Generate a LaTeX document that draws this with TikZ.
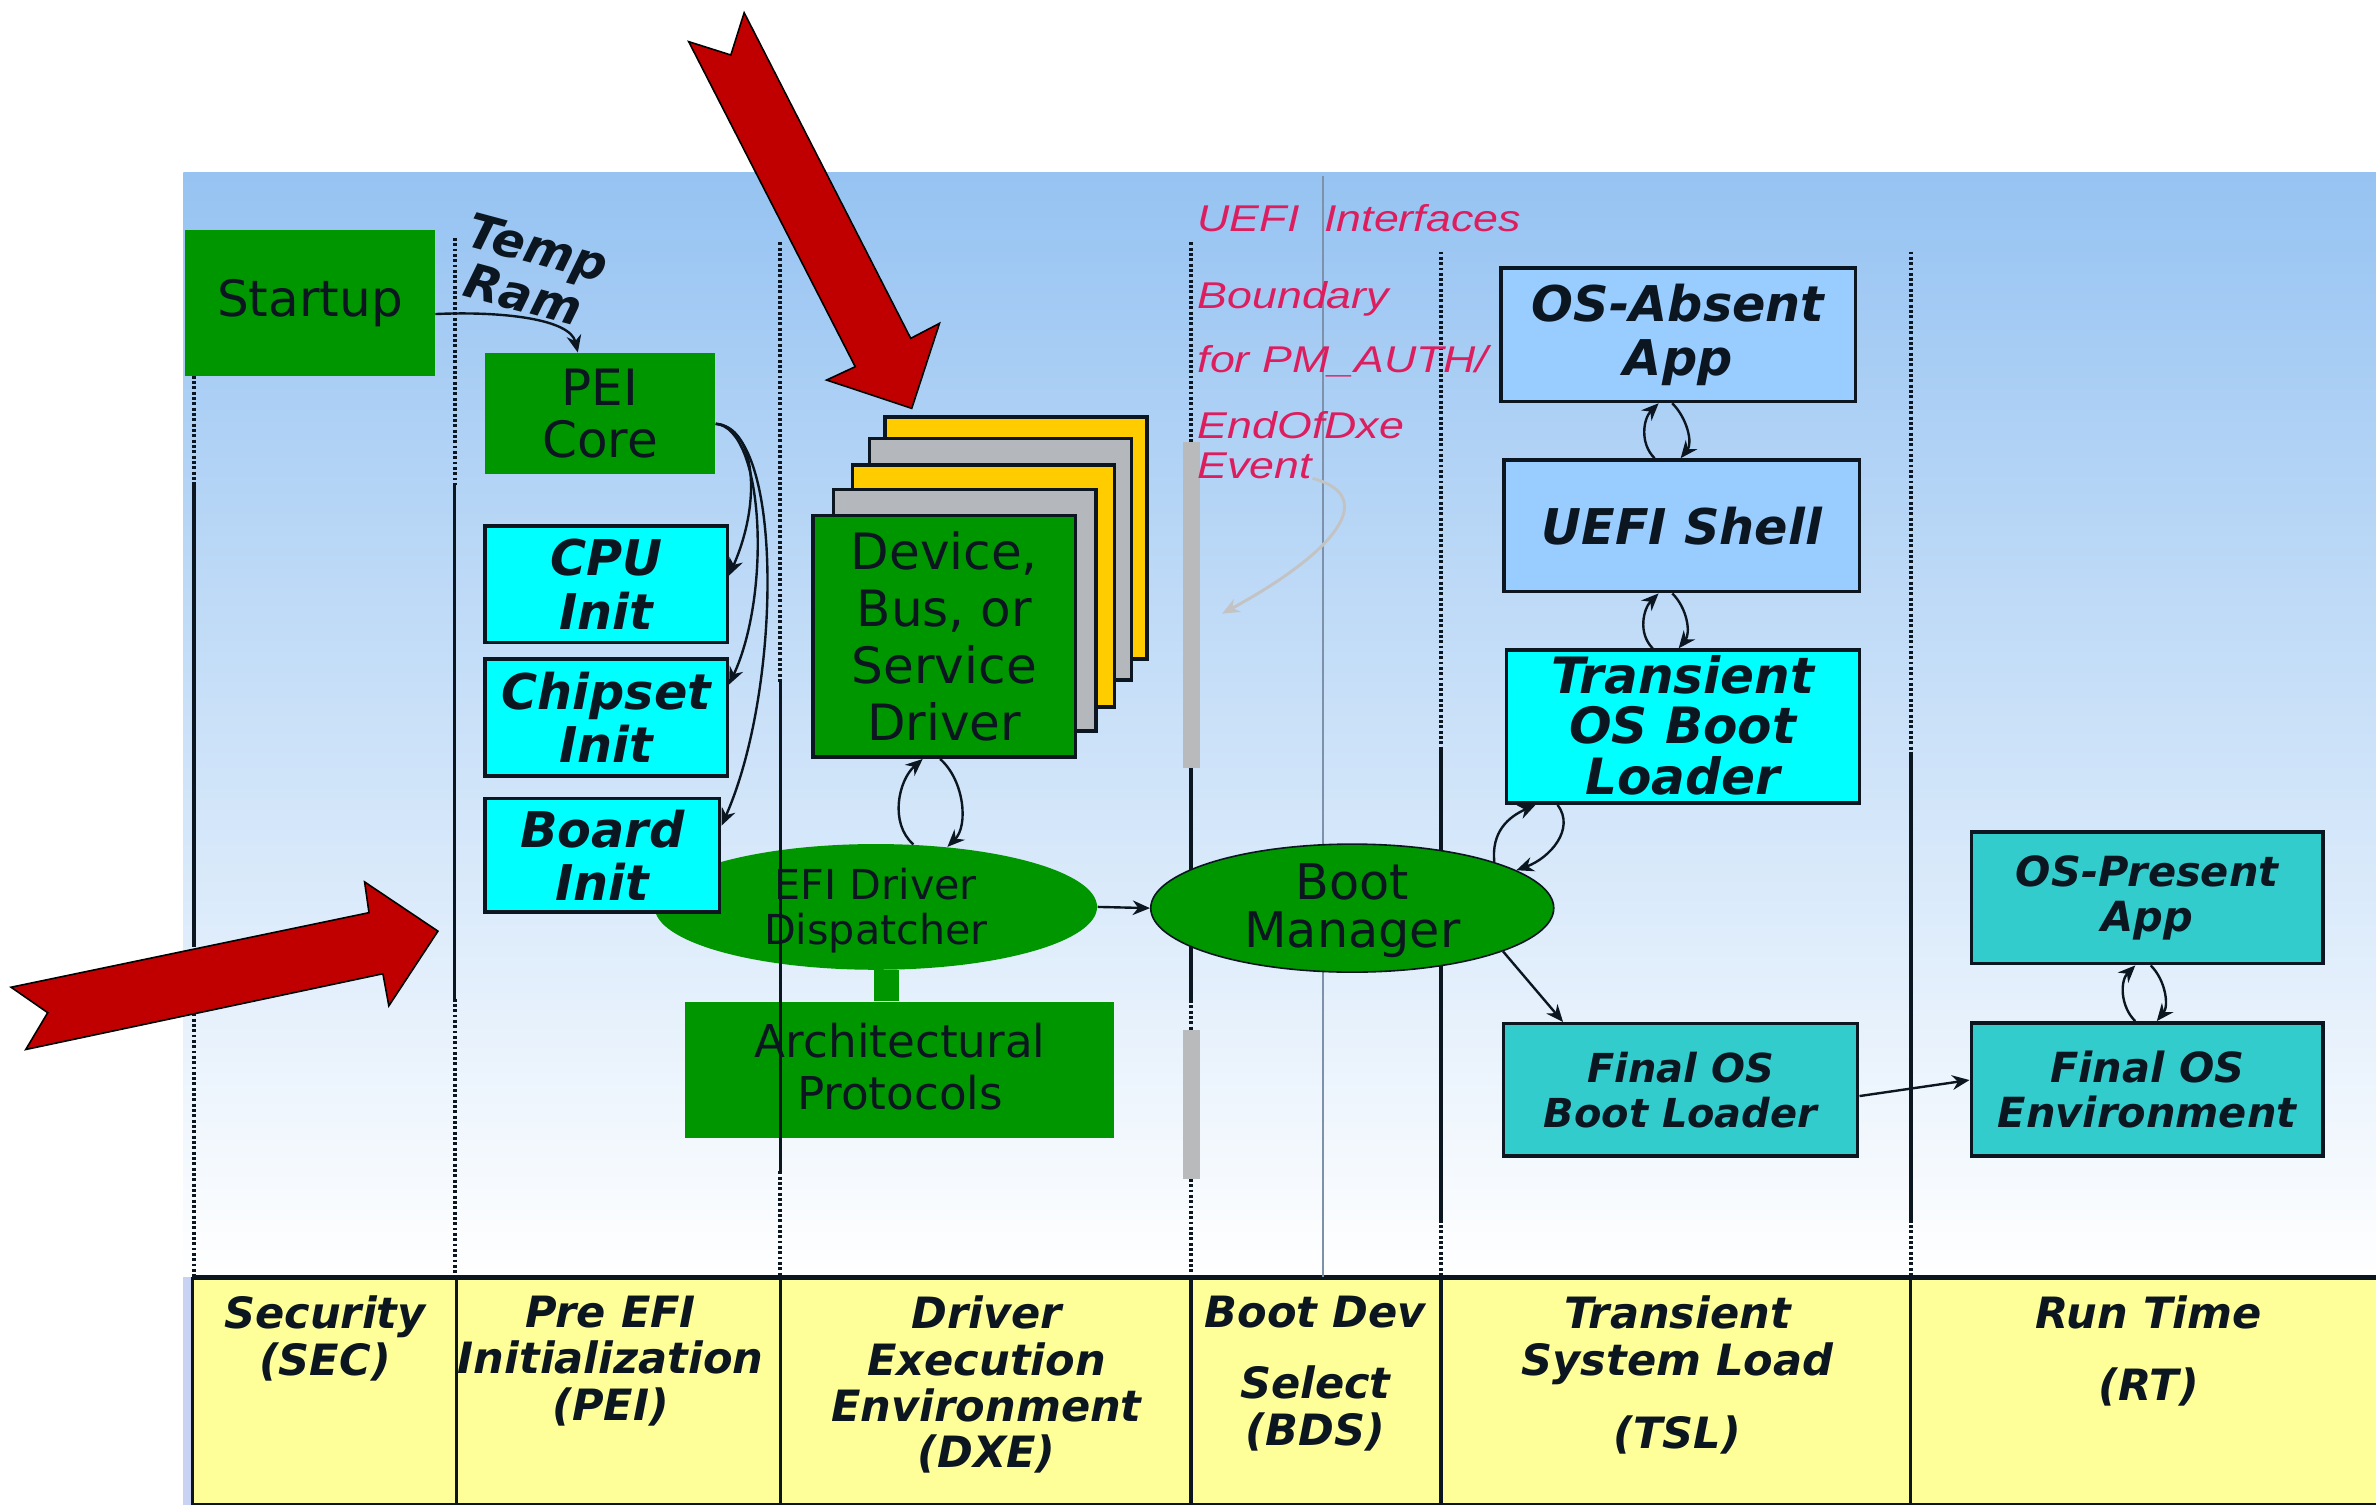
\documentclass[tikz,border=0pt]{standalone}
\usepackage{fontspec}
\setmainfont{DejaVu Sans}
\newfontfamily\pinkfont[FakeStretch=1.2]{Liberation Sans}
\usetikzlibrary{shapes.geometric, arrows.meta}

\definecolor{ink}{RGB}{12,22,32}
\definecolor{fgreen}{RGB}{0,150,0}
\definecolor{cyanbox}{RGB}{0,255,255}
\definecolor{skybox}{RGB}{153,204,255}
\definecolor{tealbox}{RGB}{51,204,204}
\definecolor{drvyellow}{RGB}{255,204,0}
\definecolor{drvgray}{RGB}{180,184,188}
\definecolor{panelblue}{RGB}{150,195,242}
\definecolor{panelmid}{RGB}{190,217,247}
\definecolor{bandyellow}{RGB}{255,255,153}
\definecolor{bandstrip}{RGB}{200,210,245}
\definecolor{pinktext}{RGB}{220,30,95}
\definecolor{redarrow}{RGB}{192,0,0}
\definecolor{thinline}{RGB}{125,145,170}
\definecolor{bargray}{RGB}{184,186,188}
\definecolor{evtgray}{RGB}{195,195,195}

\tikzset{
  box/.style={rectangle, inner sep=0pt, align=center, text=ink},
  gbox/.style={box, fill=fgreen},
  pbox/.style={box, draw=ink, line width=1.3pt},
  regbig/.style={font=\fontsize{18.8}{21.5}\selectfont},
  bitbig/.style={font=\bfseries\itshape\fontsize{18.5}{20}\selectfont},
  bitsmall/.style={font=\bfseries\itshape\fontsize{15}{17}\selectfont},
  txtnode/.style={align=center, inner sep=0pt, text=ink},
  tiltlbl/.style={anchor=base west, rotate=-15, inner sep=0pt, text=ink,
    font=\bfseries\itshape\fontsize{18}{18}\selectfont},
  conn/.style={->, line width=0.9pt, draw=ink},
  coldot/.style={line width=1.5pt, dash pattern=on 1.1pt off 0.9pt, draw=ink},
  colsolid/.style={line width=1.4pt, draw=ink},
  bandline/.style={line width=1.2pt, draw=ink},
  bandlbl/.style={align=center, inner sep=0pt, text=ink, anchor=north,
    font=\bfseries\itshape\fontsize{16.2}{17.4}\selectfont},
  pinktxt/.style={anchor=base west, inner sep=0pt, text=pinktext,
    font=\pinkfont\itshape\fontsize{14}{16}\selectfont},
  drvcard/.style={box, draw=ink, line width=1.4pt, minimum width=3.46cm, minimum height=3.19cm},
  bigarrow/.style={fill=redarrow, draw=black, line width=0.6pt, line join=miter},
}

\begin{document}
\begin{tikzpicture}[x=0.02cm, y=-0.02cm, >={Stealth[length=6.5pt,width=5.5pt]}]
\useasboundingbox (0,0) rectangle (1568,993);
\fill[white] (0,0) rectangle (1568,993);

% blue panel and phase band
\shade[top color=panelblue, middle color=panelmid, bottom color=white] (121,114) rectangle (1568,843);
\fill[bandstrip] (121,843) rectangle (127,993);
\fill[bandyellow] (127,843) rectangle (1568,993);
\draw[line width=1.8pt, draw=ink] (127,843) -- (1568,843);
\draw[bandline] (127,843) -- (127,993);
\foreach \xx in {301,515,786,951,1261} \draw[bandline] (\xx,843) -- (\xx,993);
\draw[line width=0.6pt, draw=ink] (127,992.5) -- (1568,992.5);

% dispatcher and architectural protocols (under the phase lines)
\node[ellipse, fill=fgreen, inner sep=0pt, minimum width=5.84cm, minimum height=1.66cm] (disp) at (578,598.5) {};
\node[txtnode, font=\fontsize{15.5}{16.8}\selectfont] (disptxt) at (578,601) {EFI Driver\\Dispatcher};
\node[gbox, minimum width=5.67cm, minimum height=1.8cm] (arch) at (593.75,706) {};
\node[txtnode, font=\fontsize{17}{19.6}\selectfont] (archtxt) at (594,704) {Architectural\\Protocols};
\draw[draw=fgreen, line width=0.32cm] ([xshift=0.14cm]disp.south) -- ([xshift=0.14cm]disp.south |- arch.north);

% phase lines
\draw[coldot] (128,248) -- (128,320);
\draw[colsolid] (128,320) -- (128,623);
\draw[coldot] (128,623) -- (128,843);
\draw[coldot] (300,157) -- (300,320);
\draw[colsolid] (300,320) -- (300,659);
\draw[coldot] (300,659) -- (300,843);
\draw[coldot] (515,160) -- (515,450);
\draw[colsolid] (515,450) -- (515,773);
\draw[coldot] (515,773) -- (515,843);
\draw[coldot] (786,160) -- (786,292);
\draw[colsolid] (786,507) -- (786,660);
\draw[coldot] (786,660) -- (786,680);
\draw[coldot] (786,778) -- (786,843);
\fill[bargray] (781,292) rectangle (792,507);
\fill[bargray] (781,680) rectangle (792,778);
\draw[line width=0.7pt, draw=thinline] (873,116) -- (873,843);
\draw[coldot] (951,166) -- (951,495);
\draw[colsolid] (951,495) -- (951,805);
\draw[coldot] (951,805) -- (951,843);
\draw[coldot] (1261,166) -- (1261,496);
\draw[colsolid] (1261,496) -- (1261,805);
\draw[coldot] (1261,805) -- (1261,843);

% SEC / PEI
\node[gbox, regbig, minimum width=3.3cm, minimum height=1.92cm] (startup) at (204.5,200) {Startup};
\node[gbox, font=\fontsize{18.8}{19.4}\selectfont, minimum width=3.04cm, minimum height=1.6cm] (pei) at (396,273) {PEI\\Core};
\node[pbox, fill=cyanbox, bitbig, minimum width=3.2cm, minimum height=1.54cm] (cpu) at (400,385.5) {CPU\\Init};
\node[pbox, fill=cyanbox, bitbig, minimum width=3.2cm, minimum height=1.54cm] (chip) at (400,473.5) {Chipset\\Init};
\node[pbox, fill=cyanbox, bitbig, minimum width=3.1cm, minimum height=1.5cm] (board) at (397.5,564.5) {Board\\Init};
\node[tiltlbl] (temp) at (306,162) {Temp};
\node[tiltlbl] (ram) at (304,195) {Ram};

% DXE driver stack
\node[drvcard, fill=drvyellow] (drv1) at (670.6,355) {};
\node[drvcard, fill=drvgray] (drv2) at (660.3,369.2) {};
\node[drvcard, fill=drvyellow] (drv3) at (649,386.6) {};
\node[drvcard, fill=drvgray] (drv4) at (636.6,402.8) {};
\node[drvcard, fill=fgreen, regbig] (drv) at (623.2,419.9) {Device,\\Bus, or\\Service\\Driver};

% BDS
\node[ellipse, fill=fgreen, draw=ink, line width=0.6pt, inner sep=0pt, minimum width=5.32cm, minimum height=1.69cm] (bm) at (892.4,599.3) {};
\node[txtnode, font=\fontsize{18.5}{17.7}\selectfont] (bmtxt) at (892.5,601) {Boot\\Manager};

% TSL
\node[pbox, fill=skybox, bitbig, minimum width=4.68cm, minimum height=1.76cm] (osabs) at (1107.5,221) {OS-Absent\\App};
\node[pbox, fill=skybox, bitbig, minimum width=4.69cm, minimum height=1.74cm] (shell) at (1109.9,347) {UEFI Shell};
\node[pbox, fill=cyanbox, minimum width=4.66cm, minimum height=2.02cm] (tosbl) at (1110.5,479.5) {};
\node[txtnode, font=\bfseries\itshape\fontsize{18.8}{19}\selectfont] (tosbltxt) at (1110.5,478.5) {Transient\\OS Boot\\Loader};
\node[pbox, fill=tealbox, bitsmall, minimum width=4.68cm, minimum height=1.744cm] (fobl) at (1109,719.2) {Final OS\\Boot Loader};

% RT
\node[pbox, fill=tealbox, font=\bfseries\itshape\fontsize{15.6}{17}\selectfont, minimum width=4.646cm, minimum height=1.74cm] (osp) at (1417,592.5) {OS-Present\\App};
\node[pbox, fill=tealbox, font=\bfseries\itshape\fontsize{15.6}{17}\selectfont, minimum width=4.646cm, minimum height=1.756cm] (foe) at (1417,718.9) {Final OS\\Environment};

% connectors
\draw[conn] (startup.-5.5) .. controls +(45,-2) and +(-5,-22) .. (pei.110);
\draw[conn] (pei.-5) .. controls +(26,2) and +(22,-50) .. (cpu.4);
\draw[conn] (pei.-5) .. controls +(32,3) and +(28,-60) .. (chip.15);
\draw[conn] (pei.-5) .. controls +(45,3) and +(40,-90) .. (board.14.5);

\draw[conn] (disp.59.8) .. controls +(-16,-14) and +(-16,14) .. (drv.-100.5);
\draw[conn] (drv.-92.9) .. controls +(16,14) and +(14,-14) .. (disp.40);
\draw[conn] (disp.east) -- (bm.west);

\draw[conn] (shell.112.4) .. controls +(-10,-10) and +(-10,10) .. (osabs.-106.3);
\draw[conn] (osabs.-95.1) .. controls +(10,10) and +(8,-10) .. (shell.91.6);
\draw[conn] (tosbl.111.5) .. controls +(-10,-10) and +(-10,10) .. (shell.-109.4);
\draw[conn] (shell.-98) .. controls +(10,10) and +(8,-10) .. (tosbl.93.2);
\draw[conn] (bm.18) .. controls +(-2,-20) and +(-18,8) .. (tosbl.-152);
\draw[conn] (tosbl.-148.8) .. controls +(12,16) and +(22,-8) .. (bm.13.6);
\draw[conn] (bm.-16.6) -- (fobl.150);
\draw[conn] (fobl.-2.35) -- (foe.177.8);
\draw[conn] (foe.100.3) .. controls +(-10,-10) and +(-10,10) .. (osp.-100.4);
\draw[conn] (osp.-87.4) .. controls +(10,10) and +(8,-10) .. (foe.82.2);

% UEFI interface boundary note
\node[pinktxt] (pkA) at (790,153) {UEFI\ \ Interfaces};
\node[pinktxt] (pkB) at (790,203.5) {Boundary};
\node[pinktxt] (pkC) at (790,246) {for PM\_AUTH/};
\node[pinktxt] (pkD) at (790,289.3) {EndOfDxe};
\node[pinktxt] (pkE) at (790,315.7) {Event};
\coordinate (evtip) at (806.5,405);
\draw[->, draw=evtgray, line width=1.1pt] (pkE.base east) .. controls +(45,12) and +(73.5,-40) .. (evtip);

% highlight arrows
\draw[bigarrow] (491.1,8.4) -- (601,223.3) -- (620,213.4) -- (601.7,269.5) -- (545.5,250.8)
  -- (564.4,242) -- (454.5,27.5) -- (482.3,36.3) -- cycle;
\draw[bigarrow] (7.3,651.5) -- (243.5,602.3) -- (240.6,582) -- (289,614.5) -- (256.6,663.8)
  -- (252.7,642.6) -- (17,692.6) -- (31.5,668.3) -- cycle;

% phase names
\node[bandlbl] (lsec) at (214.5,855) {Security\\(SEC)};
\node[bandlbl] (lpei) at (403,855) {Pre EFI\\Initialization\\(PEI)};
\node[bandlbl] (ldxe) at (651,855) {Driver\\Execution\\Environment\\(DXE)};
\node[bandlbl] (lbds) at (868,855) {Boot Dev\\[9.4pt]Select\\(BDS)};
\node[bandlbl] (ltsl) at (1107,855) {Transient\\System Load\\[10pt](TSL)};
\node[bandlbl] (lrt) at (1418,855) {Run Time\\[9.4pt](RT)};
\end{tikzpicture}
\end{document}
